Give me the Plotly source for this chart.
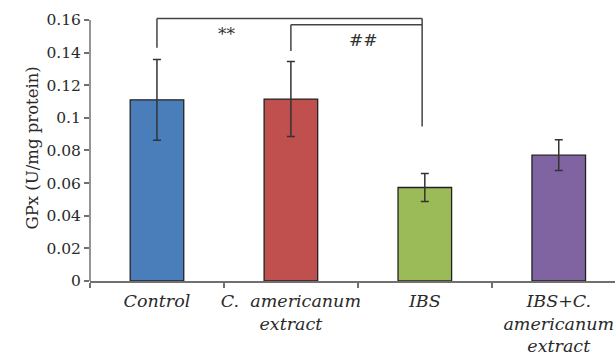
import plotly.graph_objects as go

# GPx activity per treatment group (mean ± SD)
groups = ["Control", "C.  americanum<br>extract", "IBS", "IBS+C.<br>americanum<br>extract"]
gpx_mean = [0.111, 0.1115, 0.0573, 0.0771]
gpx_err = [0.0248, 0.023, 0.0086, 0.0094]
bar_colors = ["#4a7ebb", "#c0504d", "#9bbb59", "#8064a2"]

# significance brackets: (from group index, to group index, label)
brackets = [(0, 2, "**"), (1, 2, "##")]

FONT = "DejaVu Serif"
TXT = "#2a2a2a"
AX = "#707070"

fig = go.Figure()
fig.add_trace(go.Bar(
    x=groups,
    y=gpx_mean,
    width=0.4,
    marker=dict(color=bar_colors, line=dict(color="#222222", width=1.3)),
    error_y=dict(type="data", array=gpx_err, visible=True,
                 color="#333333", thickness=1.5, width=4),
    showlegend=False,
))

shapes = []
# y axis line drawn up to the top tick only
shapes.append(dict(type="line", xref="paper", yref="y", x0=0, x1=0, y0=-0.003, y1=0.16,
                   line=dict(color=AX, width=1.5)))

# bracket heights / leg ends
tops = [0.1608, 0.1571]
left_ends = [0.143, 0.141]
right_end = 0.0946
label_pos = [(0.52, 0.1515, 17), (1.545, 0.1475, 17)]
for (a, b, lab), top, lend, (lx, ly, fs) in zip(brackets, tops, left_ends, label_pos):
    xa = a
    xb = b - 0.02
    shapes.append(dict(type="line", xref="x", yref="y", x0=xa, x1=xa, y0=lend, y1=top,
                       line=dict(color="#444444", width=1.5)))
    shapes.append(dict(type="line", xref="x", yref="y", x0=xa, x1=xb, y0=top, y1=top,
                       line=dict(color="#444444", width=1.5)))
    fig.add_annotation(x=lx, y=ly, xref="x", yref="y", text=lab, showarrow=False,
                       yanchor="middle", font=dict(family=FONT, size=fs, color="#333333"))
shapes.append(dict(type="line", xref="x", yref="y", x0=2 - 0.02, x1=2 - 0.02,
                   y0=right_end, y1=tops[0], line=dict(color="#444444", width=1.5)))

fig.add_annotation(x=-(90 - 20) / 525, y=0.5, xref="paper", yref="paper",
                   text="GPx (U/mg protein)", textangle=-90, showarrow=False,
                   font=dict(family=FONT, size=16.5, color=TXT))

fig.update_layout(
    width=615, height=355,
    margin=dict(l=90, r=0, t=15, b=74, autoexpand=False),
    paper_bgcolor="white", plot_bgcolor="white",
    shapes=shapes,
    font=dict(family=FONT, color=TXT),
    xaxis=dict(
        type="category", range=[-0.5, 3.42], automargin=False, tickangle=0,
        tickson="boundaries", ticks="outside", ticklen=5, tickcolor=AX, tickwidth=1.5,
        showline=True, linecolor=AX, linewidth=1.5, ticklabelstandoff=3,
        tickfont=dict(family=FONT, size=17.5, color=TXT, style="italic"),
        showgrid=False,
    ),
    yaxis=dict(
        range=[0, 0.163], tickvals=[0, 0.02, 0.04, 0.06, 0.08, 0.1, 0.12, 0.14, 0.16],
        ticktext=["0", "0.02", "0.04", "0.06", "0.08", "0.1", "0.12", "0.14", "0.16"],
        ticks="outside", ticklen=5, tickcolor=AX, tickwidth=1.5, automargin=False,
        showline=False, showgrid=False, zeroline=False,
        tickfont=dict(family=FONT, size=15.5, color=TXT),
    ),
)

fig.write_html("out.html")
